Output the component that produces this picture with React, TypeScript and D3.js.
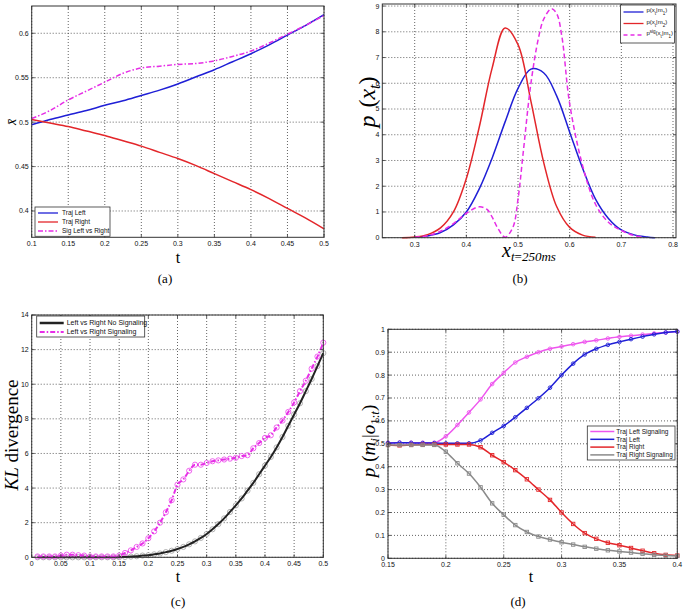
import React from 'react';
import * as d3 from 'd3';

// ---------- Panel (a) data ----------
const aT = [0.1, 0.125, 0.15, 0.175, 0.2, 0.225, 0.25, 0.275, 0.3, 0.325, 0.35, 0.375, 0.4, 0.425, 0.45, 0.475, 0.5];
const aLeft = [0.497, 0.503, 0.508, 0.513, 0.519, 0.524, 0.530, 0.536, 0.543, 0.551, 0.559, 0.568, 0.577, 0.587, 0.598, 0.609, 0.621];
const aRight = [0.503, 0.499, 0.495, 0.490, 0.485, 0.479, 0.473, 0.466, 0.459, 0.451, 0.442, 0.433, 0.424, 0.414, 0.403, 0.392, 0.380];
const aSig = [0.504, 0.513, 0.525, 0.535, 0.545, 0.555, 0.561, 0.563, 0.565, 0.566, 0.569, 0.574, 0.580, 0.589, 0.599, 0.609, 0.620];
const aXTicks = [0.1, 0.15, 0.2, 0.25, 0.3, 0.35, 0.4, 0.45, 0.5];
const aYTicks = [0.4, 0.45, 0.5, 0.55, 0.6];

// ---------- Panel (b) data ----------
const bRedX = [0.275, 0.3, 0.325, 0.35, 0.375, 0.4, 0.425, 0.45, 0.475, 0.5, 0.525, 0.55, 0.575, 0.6, 0.625, 0.65];
const bRedY = [0.0, 0.03, 0.12, 0.38, 1.0, 2.3, 4.3, 6.6, 8.15, 7.5, 5.3, 2.9, 1.2, 0.4, 0.1, 0.02];
const bBlueX = [0.3, 0.325, 0.35, 0.375, 0.4, 0.425, 0.45, 0.475, 0.5, 0.525, 0.55, 0.575, 0.6, 0.625, 0.65, 0.675, 0.7, 0.725, 0.75, 0.765];
const bBlueY = [0.02, 0.07, 0.2, 0.5, 1.0, 1.9, 3.1, 4.5, 5.8, 6.55, 6.4, 5.5, 4.1, 2.7, 1.5, 0.75, 0.3, 0.11, 0.03, 0.0];
const bSigX = [0.3, 0.325, 0.35, 0.375, 0.4, 0.425, 0.44, 0.45, 0.46, 0.475, 0.49, 0.5, 0.51, 0.525, 0.54, 0.55, 0.565, 0.575, 0.585, 0.6, 0.625, 0.65, 0.675, 0.7, 0.725, 0.745];
const bSigY = [0.02, 0.08, 0.25, 0.55, 0.95, 1.2, 1.1, 0.8, 0.4, 0.02, 0.4, 1.5, 3.3, 6.0, 7.8, 8.5, 8.9, 8.7, 7.8, 5.2, 2.8, 1.3, 0.6, 0.28, 0.08, 0.01];
const bXTicks = [0.3, 0.4, 0.5, 0.6, 0.7, 0.8];
const bYTicks = [0, 1, 2, 3, 4, 5, 6, 7, 8, 9];

// ---------- Panel (c) data ----------
const cT = [0.01, 0.02, 0.03, 0.04, 0.05, 0.06, 0.07, 0.08, 0.09, 0.1, 0.11, 0.12, 0.13, 0.14, 0.15, 0.16, 0.17, 0.18, 0.19, 0.2, 0.21, 0.22, 0.23, 0.24, 0.25, 0.26, 0.27, 0.28, 0.29, 0.3, 0.31, 0.32, 0.33, 0.34, 0.35, 0.36, 0.37, 0.38, 0.39, 0.4, 0.41, 0.42, 0.43, 0.44, 0.45, 0.46, 0.47, 0.48, 0.49, 0.5];
const cNoSig = [0, 0, 0, 0, 0, 0, 0, 0, 0, 0, 0, 0, 0, 0, 0.01, 0.02, 0.04, 0.06, 0.1, 0.12, 0.17, 0.22, 0.3, 0.38, 0.48, 0.6, 0.75, 0.92, 1.12, 1.35, 1.62, 1.92, 2.25, 2.62, 3.0, 3.4, 3.85, 4.3, 4.8, 5.3, 5.8, 6.35, 6.95, 7.6, 8.25, 8.9, 9.6, 10.3, 11.05, 11.8];
const cSig = [0.05, 0.05, 0.05, 0.05, 0.1, 0.15, 0.15, 0.12, 0.1, 0.05, 0.05, 0.05, 0.05, 0.05, 0.1, 0.25, 0.4, 0.6, 0.8, 1.1, 1.5, 2.0, 2.6, 3.3, 4.2, 4.5, 5.0, 5.35, 5.35, 5.45, 5.55, 5.6, 5.65, 5.7, 5.75, 5.85, 5.9, 6.3, 6.6, 6.9, 7.05, 7.5, 7.9, 8.4, 8.95, 9.6, 10.2, 10.9, 11.6, 12.4];
const cXTicks = [0, 0.05, 0.1, 0.15, 0.2, 0.25, 0.3, 0.35, 0.4, 0.45, 0.5];
const cYTicks = [0, 2, 4, 6, 8, 10, 12, 14];

// ---------- Panel (d) data ----------
const dT = [0.15, 0.16, 0.17, 0.18, 0.19, 0.2, 0.21, 0.22, 0.23, 0.24, 0.25, 0.26, 0.27, 0.28, 0.29, 0.3, 0.31, 0.32, 0.33, 0.34, 0.35, 0.36, 0.37, 0.38, 0.39, 0.4];
const dLeftSig = [0.505, 0.505, 0.505, 0.505, 0.505, 0.533, 0.582, 0.637, 0.694, 0.761, 0.81, 0.855, 0.88, 0.9, 0.915, 0.925, 0.935, 0.945, 0.952, 0.96, 0.967, 0.972, 0.977, 0.982, 0.986, 0.99];
const dLeft = [0.503, 0.505, 0.504, 0.503, 0.503, 0.502, 0.502, 0.502, 0.515, 0.548, 0.578, 0.616, 0.657, 0.699, 0.745, 0.8, 0.85, 0.89, 0.915, 0.932, 0.945, 0.957, 0.968, 0.978, 0.986, 0.99];
const dRight = [0.495, 0.493, 0.495, 0.496, 0.497, 0.497, 0.497, 0.497, 0.485, 0.45, 0.42, 0.385, 0.345, 0.3, 0.255, 0.2, 0.15, 0.11, 0.085, 0.068, 0.057, 0.045, 0.033, 0.022, 0.015, 0.012];
const dRightSig = [0.495, 0.495, 0.495, 0.495, 0.495, 0.465, 0.415, 0.37, 0.31, 0.24, 0.19, 0.145, 0.115, 0.095, 0.082, 0.07, 0.06, 0.05, 0.042, 0.035, 0.03, 0.025, 0.02, 0.015, 0.012, 0.01];
const dXTicks = [0.15, 0.2, 0.25, 0.3, 0.35, 0.4];
const dYTicks = [0, 0.1, 0.2, 0.3, 0.4, 0.5, 0.6, 0.7, 0.8, 0.9, 1];

const BLUE = '#1f1fd6';
const RED = '#e3262a';
const MAG = '#e62ee6';
const MAG2 = '#ee55ee';
const GRAY = '#8a8a8a';
const SANS = '"Liberation Sans", Arial, sans-serif';
const SERIF = '"Liberation Serif", "DejaVu Serif", serif';

type Box = { x0: number; x1: number; y0: number; y1: number };

const fmt = (v: number) => String(+v.toFixed(2));

function Axes({ box, x, y, xTicks, yTicks }: { box: Box; x: any; y: any; xTicks: number[]; yTicks: number[] }) {
  return (
    <g>
      <rect x={box.x0} y={box.y0} width={box.x1 - box.x0} height={box.y1 - box.y0} fill="white" />
      {xTicks.map((t, i) => (
        <line key={'gx' + i} x1={x(t)} x2={x(t)} y1={box.y0} y2={box.y1} stroke="#222" strokeWidth={0.7} strokeDasharray="1,2" />
      ))}
      {yTicks.map((t, i) => (
        <line key={'gy' + i} x1={box.x0} x2={box.x1} y1={y(t)} y2={y(t)} stroke="#222" strokeWidth={0.7} strokeDasharray="1,2" />
      ))}
    </g>
  );
}

function AxesTop({ box, x, y, xTicks, yTicks }: { box: Box; x: any; y: any; xTicks: number[]; yTicks: number[] }) {
  const tl = 3;
  return (
    <g>
      <rect x={box.x0} y={box.y0} width={box.x1 - box.x0} height={box.y1 - box.y0} fill="none" stroke="#333" strokeWidth={1} />
      {xTicks.map((t, i) => (
        <g key={'tx' + i}>
          <line x1={x(t)} x2={x(t)} y1={box.y1} y2={box.y1 - tl} stroke="#333" strokeWidth={0.8} />
          <line x1={x(t)} x2={x(t)} y1={box.y0} y2={box.y0 + tl} stroke="#333" strokeWidth={0.8} />
          <text x={x(t)} y={box.y1 + 9} fontSize={7} fontFamily={SANS} textAnchor="middle" fill="#111">{fmt(t)}</text>
        </g>
      ))}
      {yTicks.map((t, i) => (
        <g key={'ty' + i}>
          <line x1={box.x0} x2={box.x0 + tl} y1={y(t)} y2={y(t)} stroke="#333" strokeWidth={0.8} />
          <line x1={box.x1} x2={box.x1 - tl} y1={y(t)} y2={y(t)} stroke="#333" strokeWidth={0.8} />
          <text x={box.x0 - 3} y={y(t)} dy="0.35em" fontSize={7} fontFamily={SANS} textAnchor="end" fill="#111">{fmt(t)}</text>
        </g>
      ))}
    </g>
  );
}

function path(xs: number[], ys: number[], x: any, y: any, curve: any = d3.curveMonotoneX) {
  const pts = xs.map((v, i) => [v, ys[i]] as [number, number]);
  return d3.line<[number, number]>().x(d => x(d[0])).y(d => y(d[1])).curve(curve)(pts) || '';
}

function PanelA() {
  const box: Box = { x0: 31.7, x1: 324, y0: 6, y1: 237.3 };
  const x = d3.scaleLinear().domain([0.1, 0.5]).range([box.x0, box.x1]);
  const y = d3.scaleLinear().domain([0.3704, 0.6307]).range([box.y1, box.y0]);
  const lx = 35, ly = 207;
  return (
    <g>
      <Axes box={box} x={x} y={y} xTicks={aXTicks} yTicks={aYTicks} />
      <path d={path(aT, aLeft, x, y)} fill="none" stroke={BLUE} strokeWidth={1.5} />
      <path d={path(aT, aRight, x, y)} fill="none" stroke={RED} strokeWidth={1.5} />
      <path d={path(aT, aSig, x, y)} fill="none" stroke={MAG} strokeWidth={1.5} strokeDasharray="5,2,1.5,2" />
      <AxesTop box={box} x={x} y={y} xTicks={aXTicks} yTicks={aYTicks} />
      <rect x={lx} y={ly} width={75} height={box.y1 - ly - 1} fill="white" stroke="#333" strokeWidth={0.8} />
      {[['Traj Left', BLUE, ''], ['Traj Right', RED, ''], ['Sig Left vs Right', MAG, '5,2,1.5,2']].map((e, i) => (
        <g key={i}>
          <line x1={lx + 3} x2={lx + 23} y1={ly + 6 + i * 9} y2={ly + 6 + i * 9} stroke={e[1]} strokeWidth={1.3} strokeDasharray={e[2]} />
          <text x={lx + 27} y={ly + 6 + i * 9} dy="0.35em" fontSize={6.5} fontFamily={SANS} fill="#111">{e[0]}</text>
        </g>
      ))}
      <text transform="translate(12,122) rotate(-90)" fontSize={14} fontFamily={SERIF} fontStyle="italic" textAnchor="middle" dy="0.3em">x̄</text>
      <text x={178} y={263} fontSize={16} fontFamily={SERIF} textAnchor="middle">t</text>
      <text x={165} y={283} fontSize={13} fontFamily={SERIF} textAnchor="middle">(a)</text>
    </g>
  );
}

function PanelB() {
  const box: Box = { x0: 382.3, x1: 676, y0: 4, y1: 237.7 };
  const x = d3.scaleLinear().domain([0.2373, 0.8058]).range([box.x0, box.x1]);
  const y = d3.scaleLinear().domain([0, 9.08]).range([box.y1, box.y0]);
  const lx = 620.5, ly = 5;
  const sub = { fontSize: 4.5, baselineShift: 'sub' } as any;
  const sup = { fontSize: 4.5, baselineShift: 'super' } as any;
  return (
    <g>
      <Axes box={box} x={x} y={y} xTicks={bXTicks} yTicks={bYTicks} />
      <path d={path(bBlueX, bBlueY, x, y, d3.curveCatmullRom)} fill="none" stroke={BLUE} strokeWidth={1.5} />
      <path d={path(bRedX, bRedY, x, y, d3.curveCatmullRom)} fill="none" stroke={RED} strokeWidth={1.5} />
      <path d={path(bSigX, bSigY, x, y, d3.curveCatmullRom)} fill="none" stroke={MAG} strokeWidth={1.5} strokeDasharray="5,3" />
      <AxesTop box={box} x={x} y={y} xTicks={bXTicks} yTicks={bYTicks} />
      <rect x={lx} y={ly} width={54} height={38} fill="white" stroke="#333" strokeWidth={0.8} />
      {[BLUE, RED, MAG].map((c, i) => (
        <line key={i} x1={lx + 3} x2={lx + 23} y1={ly + 7 + i * 11.5} y2={ly + 7 + i * 11.5} stroke={c} strokeWidth={1.3} strokeDasharray={i === 2 ? '4,3' : ''} />
      ))}
      <text x={lx + 26} y={ly + 7} fontSize={6} fontFamily={SANS} fill="#111">p(x<tspan {...sub}>t</tspan>|m<tspan {...sub}>1</tspan>)</text>
      <text x={lx + 26} y={ly + 18.5} fontSize={6} fontFamily={SANS} fill="#111">p(x<tspan {...sub}>t</tspan>|m<tspan {...sub}>2</tspan>)</text>
      <text x={lx + 26} y={ly + 30} fontSize={6} fontFamily={SANS} fill="#111">p<tspan {...sup}>sig</tspan>(x<tspan {...sub}>t</tspan>|m<tspan {...sub}>1</tspan>)</text>
      <text transform="translate(368,102) rotate(-90)" fontSize={24} fontFamily={SERIF} textAnchor="middle" dy="0.3em">
        <tspan fontStyle="italic">p</tspan><tspan dx="8">(</tspan><tspan fontStyle="italic">x</tspan><tspan fontSize={16} fontStyle="italic" dy="5">t</tspan><tspan dy="-5">)</tspan>
      </text>
      <text x={529} y={257} fontSize={20} fontFamily={SERIF} textAnchor="middle" fontStyle="italic">
        x<tspan fontSize={13} dy="4">t</tspan><tspan fontSize={13} fontStyle="normal">=</tspan><tspan fontSize={13}>250ms</tspan>
      </text>
      <text x={520} y={283} fontSize={13} fontFamily={SERIF} textAnchor="middle">(b)</text>
    </g>
  );
}

function PanelC() {
  const box: Box = { x0: 31.7, x1: 323.3, y0: 315, y1: 557.3 };
  const x = d3.scaleLinear().domain([0, 0.5]).range([box.x0, box.x1]);
  const y = d3.scaleLinear().domain([0, 14]).range([box.y1, box.y0]);
  const lx = 36.7, ly = 316;
  return (
    <g>
      <Axes box={box} x={x} y={y} xTicks={cXTicks} yTicks={cYTicks} />
      {cT.map((t, i) => (
        <circle key={'g' + i} cx={x(t)} cy={y(cNoSig[i])} r={2.6} fill="none" stroke="#aaa" strokeWidth={0.9} />
      ))}
      <path d={path(cT, cNoSig, x, y)} fill="none" stroke="#222" strokeWidth={2} />
      {cT.map((t, i) => (
        <circle key={'m' + i} cx={x(t)} cy={y(cSig[i])} r={2.6} fill="none" stroke={MAG2} strokeWidth={0.9} />
      ))}
      <path d={path(cT, cSig, x, y)} fill="none" stroke={MAG} strokeWidth={2} strokeDasharray="5,2,1.5,2" />
      <AxesTop box={box} x={x} y={y} xTicks={cXTicks} yTicks={cYTicks} />
      <rect x={lx} y={ly} width={108} height={21} fill="white" stroke="#333" strokeWidth={0.8} />
      <line x1={lx + 3} x2={lx + 27} y1={ly + 7} y2={ly + 7} stroke="#222" strokeWidth={2.5} />
      <line x1={lx + 3} x2={lx + 27} y1={ly + 16} y2={ly + 16} stroke={MAG} strokeWidth={2} strokeDasharray="5,2,1.5,2" />
      <text x={lx + 30} y={ly + 7} dy="0.35em" fontSize={7} fontFamily={SANS} fill="#111">Left vs Right No Signaling</text>
      <text x={lx + 30} y={ly + 16} dy="0.35em" fontSize={7} fontFamily={SANS} fill="#111">Left vs Right Signaling</text>
      <text transform="translate(12,435) rotate(-90)" fontSize={19} fontFamily={SERIF} textAnchor="middle" dy="0.3em">
        <tspan fontStyle="italic">KL</tspan> divergence
      </text>
      <text x={178} y={582} fontSize={16} fontFamily={SERIF} textAnchor="middle">t</text>
      <text x={178} y={606} fontSize={13} fontFamily={SERIF} textAnchor="middle">(c)</text>
    </g>
  );
}

function PanelD() {
  const box: Box = { x0: 388, x1: 677.3, y0: 329.3, y1: 558.3 };
  const x = d3.scaleLinear().domain([0.15, 0.4]).range([box.x0, box.x1]);
  const y = d3.scaleLinear().domain([0, 1]).range([box.y1, box.y0]);
  const lx = 587.3, ly = 426;
  const series: [number[], string, string][] = [
    [dLeftSig, MAG2, 'c'],
    [dLeft, BLUE, 'c'],
    [dRight, RED, 's'],
    [dRightSig, GRAY, 's'],
  ];
  const names = ['Traj Left Signaling', 'Traj Left', 'Traj Right', 'Traj Right Signaling'];
  return (
    <g>
      <Axes box={box} x={x} y={y} xTicks={dXTicks} yTicks={dYTicks} />
      {series.map(([vals, c, m], k) => (
        <g key={k}>
          <path d={path(dT, vals, x, y)} fill="none" stroke={c} strokeWidth={1.5} />
          {dT.map((t, i) =>
            m === 'c' ? (
              <circle key={i} cx={x(t)} cy={y(vals[i])} r={1.8} fill="none" stroke={c} strokeWidth={0.9} />
            ) : (
              <rect key={i} x={x(t) - 1.7} y={y(vals[i]) - 1.7} width={3.4} height={3.4} fill="none" stroke={c} strokeWidth={0.9} />
            )
          )}
        </g>
      ))}
      <AxesTop box={box} x={x} y={y} xTicks={dXTicks} yTicks={dYTicks} />
      <rect x={lx} y={ly} width={87.7} height={34} fill="white" stroke="#333" strokeWidth={0.8} />
      {series.map(([, c], i) => (
        <g key={'l' + i}>
          <line x1={lx + 3} x2={lx + 27} y1={ly + 5.5 + i * 7.8} y2={ly + 5.5 + i * 7.8} stroke={c} strokeWidth={1.5} />
          <text x={lx + 29} y={ly + 5.5 + i * 7.8} dy="0.35em" fontSize={6.5} fontFamily={SANS} fill="#111">{names[i]}</text>
        </g>
      ))}
      <text transform="translate(369,441) rotate(-90)" fontSize={19} fontFamily={SERIF} textAnchor="middle" dy="0.3em">
        <tspan fontStyle="italic">p</tspan><tspan dx="6">(</tspan><tspan fontStyle="italic">m</tspan><tspan fontSize={13} fontStyle="italic" dy="4">i</tspan><tspan dy="-4">|</tspan><tspan fontStyle="italic">o</tspan><tspan fontSize={13} dy="4">1:</tspan><tspan fontSize={13} fontStyle="italic">t</tspan><tspan dy="-4">)</tspan>
      </text>
      <text x={531} y={582} fontSize={16} fontFamily={SERIF} textAnchor="middle">t</text>
      <text x={518} y={606} fontSize={13} fontFamily={SERIF} textAnchor="middle">(d)</text>
    </g>
  );
}

export default function App() {
  return (
    <svg width={686} height={611} viewBox="0 0 686 611" style={{ position: 'absolute', left: 0, top: 0, background: 'white' }}>
      <rect width={686} height={611} fill="white" />
      <PanelA />
      <PanelB />
      <PanelC />
      <PanelD />
    </svg>
  );
}
